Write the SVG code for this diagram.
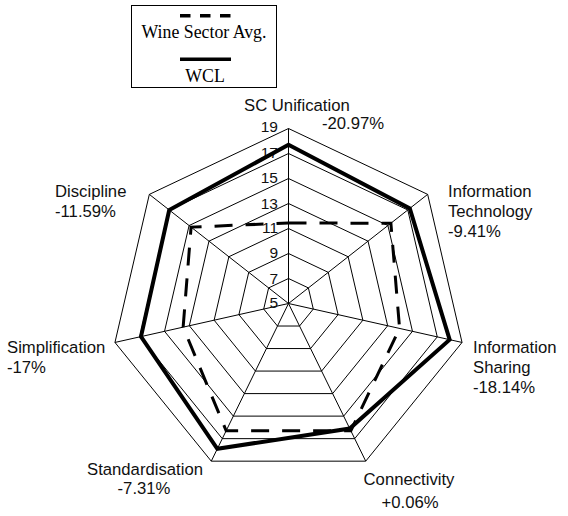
<svg xmlns="http://www.w3.org/2000/svg" width="568" height="516" viewBox="0 0 568 516">
<style>
.grid{fill:none;stroke:#000;stroke-width:1}
.lbl{font-family:"Liberation Sans",Arial,sans-serif;font-size:16.7px;fill:#111}
.tick{font-family:"Liberation Sans",Arial,sans-serif;font-size:15.5px;fill:#111;text-anchor:end}
.leg{font-family:"Liberation Serif","Times New Roman",serif;font-size:17.8px;fill:#000;text-anchor:middle}
.wcl{fill:none;stroke:#000;stroke-width:4;stroke-linejoin:miter}
.avg{fill:none;stroke:#000;stroke-width:3;stroke-dasharray:18 13}
</style>
<rect width="568" height="516" fill="#fff"/>
<g id="legend">
<rect x="131.5" y="5.5" width="145" height="82" fill="#fff" stroke="#000" stroke-width="1"/>
<line x1="180" y1="15.7" x2="231" y2="15.7" stroke="#000" stroke-width="3.5" stroke-dasharray="10.5 9.5"/>
<text class="leg" x="204" y="37.7">Wine Sector Avg.</text>
<line x1="180" y1="59.3" x2="231" y2="59.3" stroke="#000" stroke-width="3.5"/>
<text class="leg" x="205" y="81.7">WCL</text>
</g>
<g id="grid">
<polygon class="grid" points="288.5,128.5 427.67,194.39 462.04,342.44 365.73,461.17 211.27,461.17 114.96,342.44 149.33,194.39"/>
<polygon class="grid" points="288.5,153.5 407.79,209.98 437.25,336.88 354.7,438.65 222.3,438.65 139.75,336.88 169.21,209.98"/>
<polygon class="grid" points="288.5,178.5 387.91,225.56 412.46,331.31 343.66,416.12 233.34,416.12 164.54,331.31 189.09,225.56"/>
<polygon class="grid" points="288.5,203.5 368.03,241.15 387.67,325.75 332.63,393.6 244.37,393.6 189.33,325.75 208.97,241.15"/>
<polygon class="grid" points="288.5,228.5 348.14,256.74 362.87,320.19 321.6,371.07 255.4,371.07 214.13,320.19 228.86,256.74"/>
<polygon class="grid" points="288.5,253.5 328.26,272.33 338.08,314.63 310.57,348.55 266.43,348.55 238.92,314.63 248.74,272.33"/>
<polygon class="grid" points="288.5,278.5 308.38,287.91 313.29,309.06 299.53,326.02 277.47,326.02 263.71,309.06 268.62,287.91"/>
<path class="grid" d="M288.5,303.5L288.5,128.5M288.5,303.5L427.67,194.39M288.5,303.5L462.04,342.44M288.5,303.5L365.73,461.17M288.5,303.5L211.27,461.17M288.5,303.5L114.96,342.44M288.5,303.5L149.33,194.39"/>
</g>
<g id="ticks">
<text class="tick" x="278" y="132">19</text>
<text class="tick" x="278" y="158">17</text>
<text class="tick" x="278" y="183">15</text>
<text class="tick" x="278" y="208.5">13</text>
<text class="tick" x="278" y="233">11</text>
<text class="tick" x="278" y="258">9</text>
<text class="tick" x="278" y="284">7</text>
<text class="tick" x="278" y="308">5</text>
</g>
<g id="connectors">
<polygon id="series-avg" class="avg" points="288.5,223 390.89,223.23 399.57,328.42 350.84,430.76 226.16,430.76 183.14,327.14 191.08,227.12"/>
<polygon id="series-wcl" class="wcl" points="288.5,144.75 409.78,208.42 449.64,339.66 349.73,428.51 217.34,448.78 140.99,336.6 169.21,209.98"/>
</g>
<g id="node-sc"><text class="lbl" x="244" y="111">SC Unification</text><text class="lbl" x="322" y="129">-20.97%</text></g>
<g id="node-it"><text class="lbl" x="448" y="197">Information</text><text class="lbl" x="448" y="217">Technology</text><text class="lbl" x="448" y="237">-9.41%</text></g>
<g id="node-is"><text class="lbl" x="473" y="353">Information</text><text class="lbl" x="473" y="373">Sharing</text><text class="lbl" x="473" y="393">-18.14%</text></g>
<g id="node-conn"><text class="lbl" x="409" y="485" text-anchor="middle">Connectivity</text><text class="lbl" x="410" y="508" text-anchor="middle">+0.06%</text></g>
<g id="node-std"><text class="lbl" x="145" y="475" text-anchor="middle">Standardisation</text><text class="lbl" x="144" y="494" text-anchor="middle">-7.31%</text></g>
<g id="node-simp"><text class="lbl" x="7" y="353">Simplification</text><text class="lbl" x="7" y="373">-17%</text></g>
<g id="node-disc"><text class="lbl" x="55" y="197">Discipline</text><text class="lbl" x="55" y="217">-11.59%</text></g>
</svg>
